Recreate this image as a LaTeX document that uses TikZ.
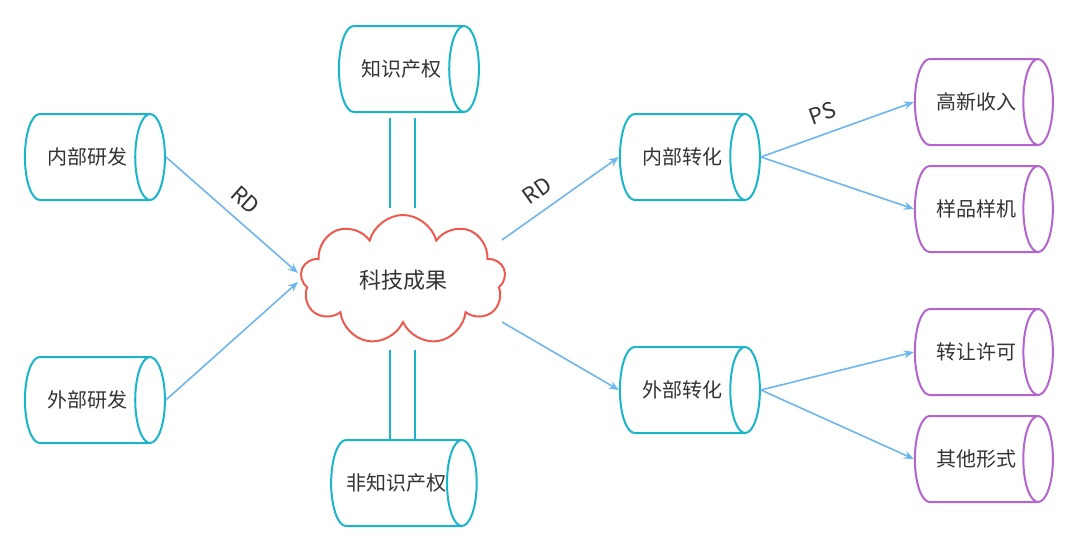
\documentclass[tikz,border=0pt]{standalone}
\usepackage{fontspec}
\setmainfont{Noto Sans CJK SC}
\usetikzlibrary{shapes.geometric,shapes.symbols,arrows.meta}
\definecolor{cy}{HTML}{1BB5CA}
\definecolor{pu}{HTML}{B463CF}
\definecolor{ar}{HTML}{6DB6EE}
\definecolor{rd}{HTML}{EE5A4F}
\begin{document}
\begin{tikzpicture}[x=1pt,y=-1pt,
  cyl/.style={cylinder,shape aspect=1.6,draw=cy,line width=2pt,minimum width=86pt,minimum height=140pt,inner sep=0pt,font=\fontsize{20}{24}\selectfont,text=black!80},
  pcyl/.style={cyl,draw=pu},
  arr/.style={draw=ar,line width=1.6pt,-{Stealth[length=10pt,width=8pt]}},
  dl/.style={draw=cy,line width=1.4pt},
  lab/.style={font=\fontsize{22}{26}\selectfont,text=black!80}]
\useasboundingbox (0,0) rectangle (1080,554);
\node[cyl] (a) at (87,157) {内部研发};
\node[cyl] (b) at (87,400) {外部研发};
\node[cyl] (c) at (401,69) {知识产权};
\node[cyl] (d) at (396,483) {非知识产权};
\node[cloud,cloud puffs=9,aspect=1.5,draw=rd,line width=2pt,minimum width=205pt,minimum height=130pt,inner sep=0pt,font=\fontsize{22}{26}\selectfont,text=black!80] (k) at (403,280) {科技成果};
\node[cyl] (e) at (682,157) {内部转化};
\node[cyl] (f) at (682,390) {外部转化};
\node[pcyl,minimum height=138pt] (g) at (976,102) {高新收入};
\node[pcyl,minimum height=138pt] (h) at (976,209) {样品样机};
\node[pcyl,minimum height=138pt] (i) at (976,352) {转让许可};
\node[pcyl,minimum height=138pt] (j) at (976,459) {其他形式};
\coordinate (k1) at (298,273); \coordinate (k2) at (298,282);
\draw[arr] (a.east) -- node[lab,sloped,above=8pt,pos=0.5] {RD} (k1);
\draw[arr] (b.east) -- (k2);
\coordinate (k3) at (502,240); \coordinate (k4) at (502,322);
\draw[arr] (k3) -- node[lab,sloped,above=8pt,pos=0.4] {RD} (e.west);
\draw[arr] (k4) -- (f.west);
\draw[arr] (e.east) -- node[lab,sloped,above=8pt,pos=0.45] {PS} (g.west);
\draw[arr] (e.east) -- (h.west);
\draw[arr] (f.east) -- (i.west);
\draw[arr] (f.east) -- (j.west);
\coordinate (t1) at (390,118); \coordinate (t2) at (390,208);
\coordinate (t3) at (415,118); \coordinate (t4) at (415,208);
\draw[dl] (t1) -- (t2); \draw[dl] (t3) -- (t4);
\coordinate (u1) at (390,350); \coordinate (u2) at (390,440);
\coordinate (u3) at (415,350); \coordinate (u4) at (415,440);
\draw[dl] (u1) -- (u2); \draw[dl] (u3) -- (u4);
\end{tikzpicture}
\end{document}
